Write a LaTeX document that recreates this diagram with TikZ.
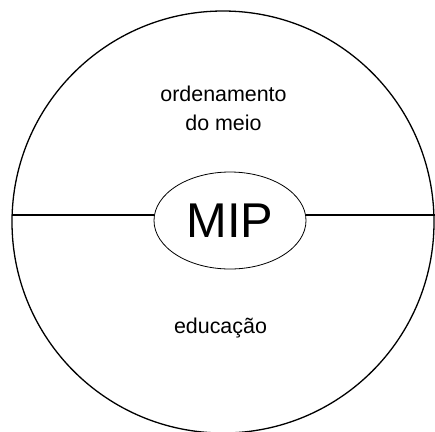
\documentclass[tikz,border=0pt]{standalone}
\usepackage{fontspec}
\setmainfont{Liberation Sans}
\usetikzlibrary{shapes.geometric}
\tikzset{
  ring/.style={line width=1.3bp},
  divider/.style={line width=1.3bp},
  hub/.style={ellipse, draw, line width=0.8bp, inner sep=0pt, minimum width=152bp, minimum height=97bp, font=\fontsize{49}{58}\selectfont},
  label/.style={inner sep=0pt, anchor=base, font=\fontsize{21.5}{28}\selectfont}
}
\begin{document}
\begin{tikzpicture}[x=1bp,y=-1bp]
\useasboundingbox (0,0) rectangle (435,431);
\clip (0,0) rectangle (435,431);
\draw[ring] (223,222) circle[radius=211bp];
\node[hub] (mip) at (230,220.5) {MIP};
\coordinate (L) at (12,215);
\coordinate (R) at (436,215);
\draw[divider] (L) -- (L -| mip.west);
\draw[divider] (R) -- (R -| mip.east);
\node[label] (t1) at (223.5,101) {ordenamento};
\node[label] (t2) at (223.5,130) {do meio};
\node[label] (t3) at (220.5,333) {educação};
\end{tikzpicture}
\end{document}
